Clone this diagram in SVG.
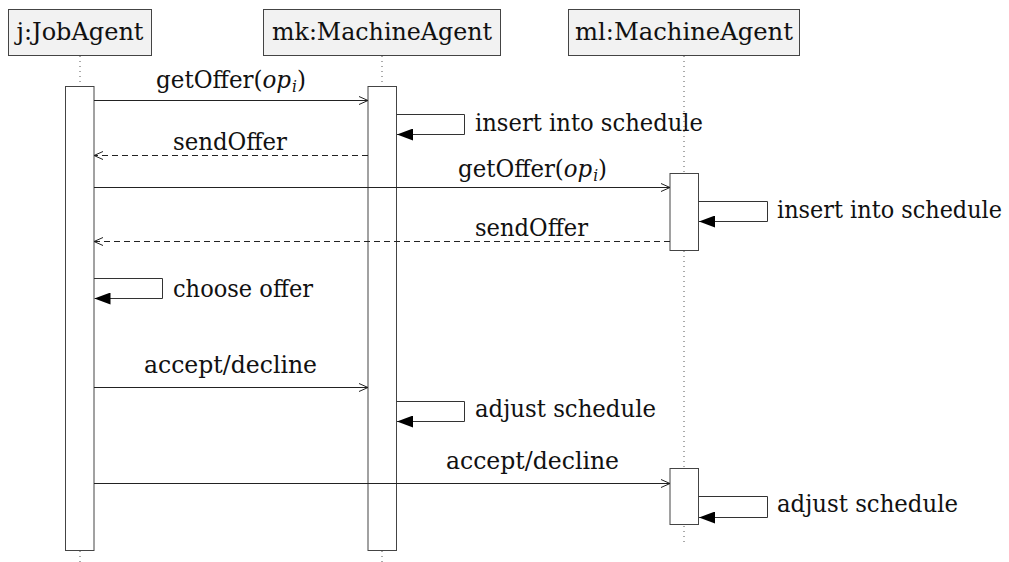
<svg xmlns="http://www.w3.org/2000/svg" width="1009" height="562" viewBox="0 0 1009 562">
  <style>
    text { font-family: "DejaVu Serif", "Liberation Serif", serif; font-size: 24px; fill: #111; }
    .box { fill: #f2f2f2; stroke: #444; stroke-width: 1; }
    .life { stroke: #555; stroke-width: 1; stroke-dasharray: 1 4; fill: none; }
    .bar { fill: #fff; stroke: #444; stroke-width: 1; }
    .msg { stroke: #222; stroke-width: 1; fill: none; marker-end: url(#open); }
    .reply { stroke: #222; stroke-width: 1; fill: none; stroke-dasharray: 6 4; marker-end: url(#open); }
    .self { stroke: #333; stroke-width: 1; fill: none; marker-end: url(#solid); }
    .it { font-style: italic; }
    .sub { font-style: italic; font-size: 16px; }
  </style>
  <defs>
    <marker id="open" viewBox="0 0 10 10" refX="10" refY="5" markerWidth="10" markerHeight="10" markerUnits="userSpaceOnUse" orient="auto">
      <path d="M1,1 L10,5 L1,9" fill="none" stroke="#222" stroke-width="1"/>
    </marker>
    <marker id="solid" viewBox="0 0 16 12" refX="16" refY="6" markerWidth="16" markerHeight="12" markerUnits="userSpaceOnUse" orient="auto">
      <path d="M0,0 L16,6 L0,12 Z" fill="#000"/>
    </marker>
  </defs>

  <rect width="1009" height="562" fill="#fff"/>

  <!-- lifelines -->
  <g id="lifelines">
    <line class="life" x1="80" y1="56" x2="80" y2="562"/>
    <line class="life" x1="382" y1="56" x2="382" y2="562"/>
    <line class="life" x1="684" y1="56" x2="684" y2="545"/>
  </g>

  <!-- participants -->
  <g id="jobAgent">
    <rect class="box" x="8.5" y="9.5" width="143" height="46"/>
    <text x="80" y="40" text-anchor="middle" textLength="127" lengthAdjust="spacingAndGlyphs">j:JobAgent</text>
    <rect class="bar" x="65.5" y="86.5" width="28.5" height="464"/>
  </g>
  <g id="machineAgentK">
    <rect class="box" x="263.5" y="9.5" width="237" height="46"/>
    <text x="382" y="40" text-anchor="middle" textLength="220" lengthAdjust="spacingAndGlyphs">mk:MachineAgent</text>
    <rect class="bar" x="368" y="86.5" width="28.5" height="464"/>
  </g>
  <g id="machineAgentL">
    <rect class="box" x="568.5" y="9.5" width="231" height="46"/>
    <text x="684" y="40" text-anchor="middle" textLength="218" lengthAdjust="spacingAndGlyphs">ml:MachineAgent</text>
    <rect class="bar" x="670" y="173.5" width="28.5" height="77"/>
    <rect class="bar" x="670" y="468.5" width="28.5" height="56"/>
  </g>

  <!-- messages -->
  <g id="connectors">
    <line class="msg" x1="94" y1="100.5" x2="368" y2="100.5"/>
    <path class="self" d="M396.5,114.5 H464.5 V134.5 H397"/>
    <line class="reply" x1="368" y1="155.5" x2="94" y2="155.5"/>
    <line class="msg" x1="94" y1="187.5" x2="670" y2="187.5"/>
    <path class="self" d="M698.5,201.5 H767.5 V221.5 H699"/>
    <line class="reply" x1="670" y1="241.5" x2="94" y2="241.5"/>
    <path class="self" d="M94,278.5 H162.5 V298.5 H94.5"/>
    <line class="msg" x1="94" y1="387.5" x2="368" y2="387.5"/>
    <path class="self" d="M396.5,401.5 H464.5 V421.5 H397"/>
    <line class="msg" x1="94" y1="483.5" x2="670" y2="483.5"/>
    <path class="self" d="M698.5,496.5 H767.5 V517.5 H699"/>
  </g>

  <!-- message labels -->
  <g id="labels">
    <text x="156" y="88" textLength="150" lengthAdjust="spacingAndGlyphs">getOffer(<tspan class="it">op</tspan><tspan class="sub" dx="1" baseline-shift="-4">i</tspan>)</text>
    <text x="475" y="131" textLength="228" lengthAdjust="spacingAndGlyphs">insert into schedule</text>
    <text x="173" y="150" textLength="114" lengthAdjust="spacingAndGlyphs">sendOffer</text>
    <text x="458" y="177" textLength="149" lengthAdjust="spacingAndGlyphs">getOffer(<tspan class="it">op</tspan><tspan class="sub" dx="1" baseline-shift="-4">i</tspan>)</text>
    <text x="777" y="218" font-size="22.5" textLength="225" lengthAdjust="spacingAndGlyphs">insert into schedule</text>
    <text x="475" y="236" textLength="113" lengthAdjust="spacingAndGlyphs">sendOffer</text>
    <text x="173" y="297" textLength="140" lengthAdjust="spacingAndGlyphs">choose offer</text>
    <text x="144" y="373" textLength="173" lengthAdjust="spacingAndGlyphs">accept/decline</text>
    <text x="475" y="417" textLength="181" lengthAdjust="spacingAndGlyphs">adjust schedule</text>
    <text x="446" y="469" textLength="173" lengthAdjust="spacingAndGlyphs">accept/decline</text>
    <text x="777" y="512" textLength="181" lengthAdjust="spacingAndGlyphs">adjust schedule</text>
  </g>
</svg>
